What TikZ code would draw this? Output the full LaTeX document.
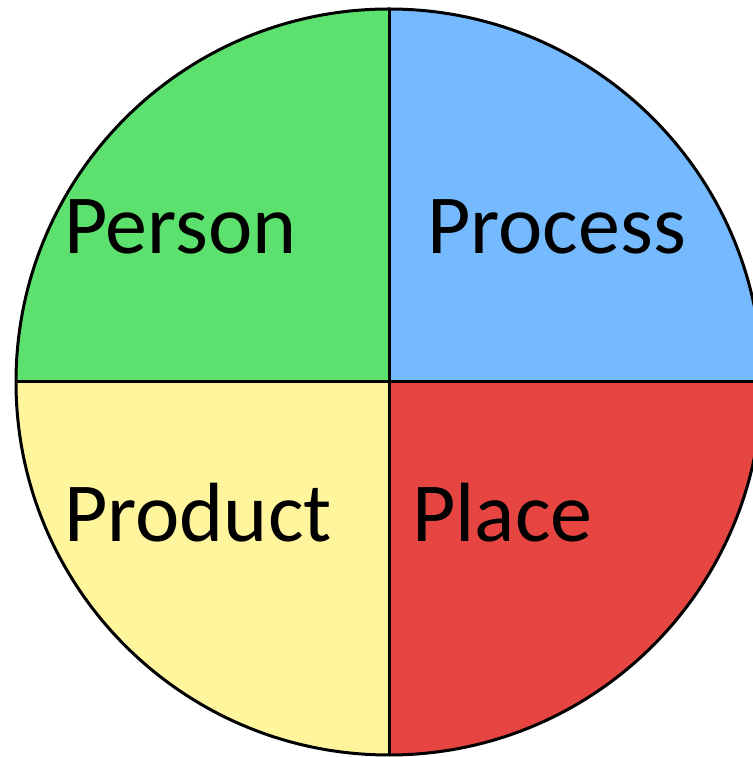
\documentclass[tikz,border=0pt]{standalone}
\usepackage{fontspec}
\setmainfont{Carlito}
\definecolor{pgreen}{HTML}{5DE16E}
\definecolor{pblue}{HTML}{75BAFF}
\definecolor{pyellow}{HTML}{FFF59D}
\definecolor{pred}{HTML}{E64541}
\begin{document}
\begin{tikzpicture}[x=1pt, y=1pt, quadtext/.style={anchor=base west, inner sep=0pt, font=\fontsize{84}{92}\selectfont}]
\useasboundingbox (0,0) rectangle (752,757);
\coordinate (C) at (389,375);
\coordinate (T) at (389,748);
\coordinate (B) at (389,2);
\coordinate (L) at (16,375);
\coordinate (R) at (762,375);
\fill[pgreen] (C) -- (T) arc[start angle=90, end angle=180, radius=373pt] -- cycle;
\fill[pblue] (C) -- (R) arc[start angle=0, end angle=90, radius=373pt] -- cycle;
\fill[pyellow] (C) -- (L) arc[start angle=180, end angle=270, radius=373pt] -- cycle;
\fill[pred] (C) -- (B) arc[start angle=270, end angle=360, radius=373pt] -- cycle;
\draw[line width=3pt] (C) circle[radius=373pt];
\draw[line width=3pt] (T) -- (B);
\draw[line width=3pt] (L) -- (R);
\node[quadtext] (person) at (64,503) {Person};
\node[quadtext] (process) at (427,503) {Process};
\node[quadtext] (product) at (64,215.5) {Product};
\node[quadtext] (place) at (412,215.5) {Place};
\end{tikzpicture}
\end{document}
